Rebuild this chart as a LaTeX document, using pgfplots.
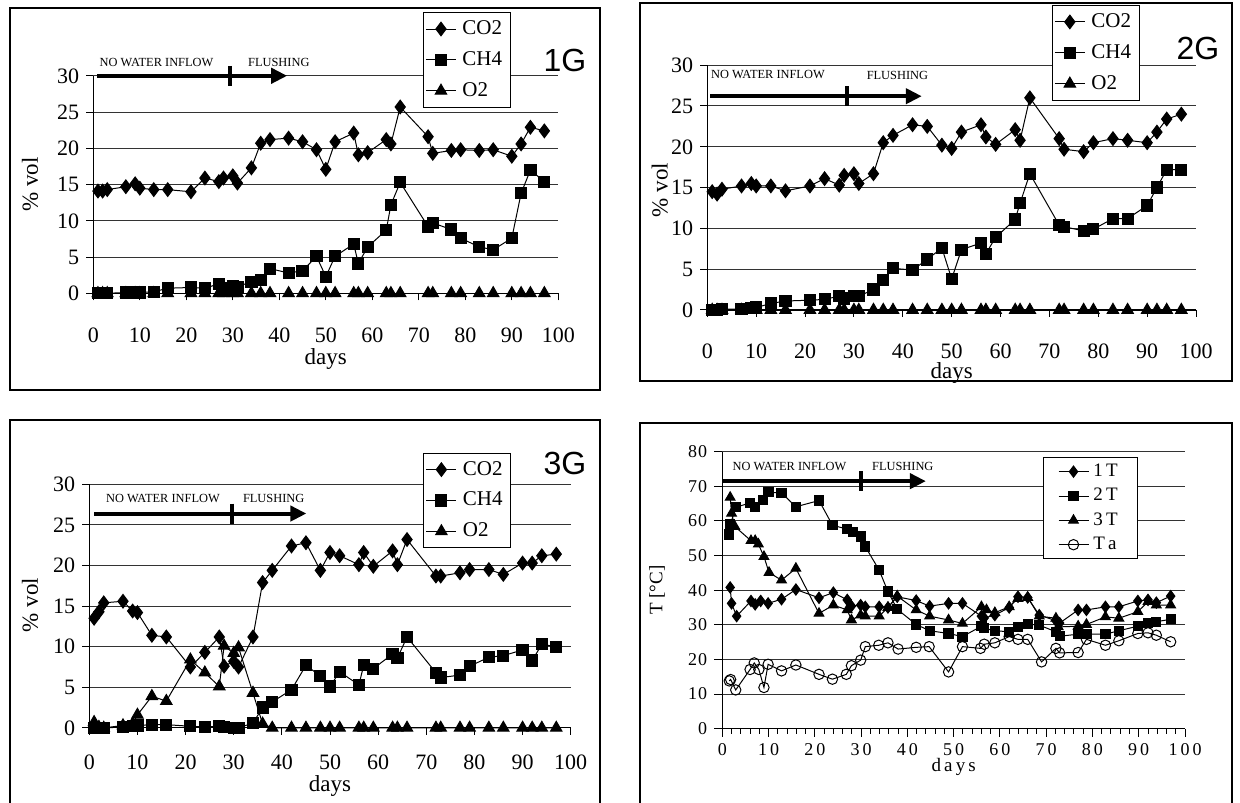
\documentclass[border=0pt]{standalone}
\usepackage{fontspec}
\setmainfont{Liberation Serif}
\newfontfamily\arialf{Liberation Sans}
\usepackage{pgfplots}
\pgfplotsset{compat=1.18}
\usetikzlibrary{arrows.meta}

\tikzset{
  arr/.style={line width=2pt, -{Triangle[length=8pt,width=7.5pt]}},
  phasebar/.style={line width=2pt},
  ann/.style={font=\fontsize{6.2}{7}\selectfont, inner sep=0pt},
}
\pgfplotsset{
  common/.style={
    scale only axis, anchor=south west, clip=false,
    xmin=0, xmax=100, xtick={0,10,...,100},
    axis x line*=bottom, axis y line*=left,
    ymajorgrids, major grid style={black!80, line width=0.5pt},
    tick align=outside, major tick length=3.5pt,
    tick style={black, line width=0.5pt},
    axis line style={black, line width=0.6pt},
    /pgf/number format/assume math mode=true,
    legend cell align=left,
    legend style={draw=black, line width=0.5pt, anchor=north west, inner sep=1pt, row sep=1pt, nodes={inner sep=0.3em}},
    legend image code/.code={\draw[mark repeat=2,mark phase=2,##1] plot coordinates {(0pt,0pt) (7.5pt,0pt) (15pt,0pt)};},
  },
  gas/.style={common, ymin=0, ymax=30, ytick={0,5,...,30},
    tick label style={font=\fontsize{11}{11}\selectfont},
    label style={font=\fontsize{11.5}{12}\selectfont},
    legend style={font=\fontsize{10.5}{12}\selectfont},
    ylabel={\% vol}, xlabel={days}},
  co/.style={black, line width=0.5pt, mark=diamond*, mark size=3.4pt},
  ch/.style={black, line width=0.5pt, mark=square*, mark size=2.8pt},
  ox/.style={black, line width=0.5pt, mark=triangle*, mark size=3.3pt},
}

\begin{document}
\begin{tikzpicture}
\useasboundingbox (0pt,0pt) rectangle (620pt,401pt);
\fill[white] (0pt,0pt) rectangle (620pt,401pt);
\draw[line width=0.6pt] (5pt,206pt) rectangle (300pt,397pt);
\draw[line width=0.6pt] (320pt,210.5pt) rectangle (616pt,399.5pt);
\draw[line width=0.6pt] (5pt,-2pt) rectangle (300pt,191pt);
\draw[line width=0.6pt] (320pt,-2pt) rectangle (616pt,189.5pt);

% ---------------- Panel 1G
\begin{axis}[gas, at={(46.65pt,254.35pt)}, width=232.5pt, height=108.75pt,
  xticklabel style={yshift=-10.4pt},
  xlabel style={at={(axis description cs:0.5,-0.302)}, anchor=center},
  ylabel style={at={(axis description cs:-0.136,0.5)}, anchor=center},
  legend style={at={(0.709,1.293)}}]
\addplot[co] coordinates {(1,14.1) (2,14.1) (3,14.3) (7,14.7) (9,15.1) (10,14.5) (13,14.3) (16,14.3) (21,14.0) (24,15.9) (27,15.4) (28,15.9) (30,16.2) (31,15.2) (34,17.3) (36,20.7) (38,21.2) (42,21.4) (45,20.9) (48,19.8) (50,17.1) (52,20.9) (56,22.1) (57,19.1) (59,19.4) (63,21.2) (64,20.6) (66,25.7) (72,21.6) (73,19.3) (77,19.7) (79,19.8) (83,19.7) (86,19.8) (90,18.9) (92,20.6) (94,22.9) (97,22.4)};
\addplot[ch] coordinates {(1,0) (2,0) (3,0) (7,0.1) (9,0.1) (10,0.1) (13,0.2) (16,0.7) (21,0.8) (24,0.7) (27,1.3) (28,0.7) (30,1.0) (31,0.9) (34,1.6) (36,1.8) (38,3.4) (42,2.8) (45,3.1) (48,5.1) (50,2.3) (52,5.1) (56,6.8) (57,4.1) (59,6.4) (63,8.7) (64,12.2) (66,15.3) (72,9.2) (73,9.7) (77,8.8) (79,7.6) (83,6.4) (86,6.0) (90,7.6) (92,13.8) (94,17.0) (97,15.4)};
\addplot[ox] coordinates {(1,0) (2,0) (3,0) (7,0) (9,0) (10,0) (13,0) (16,0) (21,0) (24,0) (27,0) (28,0) (30,0) (31,0) (34,0) (36,0) (38,0) (42,0) (45,0) (48,0) (50,0) (52,0) (56,0) (57,0) (59,0) (63,0) (64,0) (66,0) (72,0) (73,0) (77,0) (79,0) (83,0) (86,0) (90,0) (92,0) (94,0) (97,0)};
\legend{CO2,CH4,O2}
\draw[arr] (axis cs:0.8,30) -- (axis cs:41.7,30);
\draw[phasebar] ([yshift=5pt]axis cs:29.4,30) -- ([yshift=-5pt]axis cs:29.4,30);
\node[ann] at (axis cs:13.6,31.9) {NO WATER INFLOW};
\node[ann] at (axis cs:39.9,31.9) {FLUSHING};
\end{axis}
\node[font=\arialf\fontsize{16}{16}\selectfont, inner sep=0pt] at (282.5pt,371pt) {1G};

% ---------------- Panel 2G
\begin{axis}[gas, at={(353.65pt,246pt)}, width=244.35pt, height=122.4pt,
  xticklabel style={yshift=-10pt},
  xlabel style={at={(axis description cs:0.5,-0.257)}, anchor=center},
  ylabel style={at={(axis description cs:-0.097,0.49)}, anchor=center},
  legend style={at={(0.705,1.246)}}]
\addplot[co] coordinates {(1,14.5) (2,14.2) (3,14.8) (7,15.2) (9,15.5) (10,15.2) (13,15.2) (16,14.6) (21,15.2) (24,16.1) (27,15.3) (28,16.5) (30,16.7) (31,15.5) (34,16.7) (36,20.5) (38,21.4) (42,22.7) (45,22.5) (48,20.2) (50,19.8) (52,21.8) (56,22.7) (57,21.2) (59,20.3) (63,22.1) (64,20.8) (66,26.0) (72,21.0) (73,19.7) (77,19.4) (79,20.5) (83,21.0) (86,20.8) (90,20.5) (92,21.8) (94,23.4) (97,24.0)};
\addplot[ch] coordinates {(1,0) (2,0) (3,0.1) (7,0.1) (9,0.2) (10,0.3) (13,0.8) (16,1.1) (21,1.2) (24,1.3) (27,1.7) (28,1.4) (30,1.7) (31,1.7) (34,2.5) (36,3.7) (38,5.1) (42,4.9) (45,6.2) (48,7.6) (50,3.8) (52,7.4) (56,8.2) (57,6.9) (59,8.9) (63,11.1) (64,13.1) (66,16.7) (72,10.4) (73,10.2) (77,9.7) (79,9.9) (83,11.2) (86,11.2) (90,12.8) (92,15.0) (94,17.2) (97,17.2)};
\addplot[ox] coordinates {(1,0) (2,0) (3,0) (7,0) (9,0) (10,0) (13,0) (16,0) (21,0) (24,0) (27,0) (28,0) (30,0) (31,0) (34,0) (36,0) (38,0) (42,0) (45,0) (48,0) (50,0) (52,0) (56,0) (57,0) (59,0) (63,0) (64,0) (66,0) (72,0) (73,0) (77,0) (79,0) (83,0) (86,0) (90,0) (92,0) (94,0) (97,0)};
\legend{CO2,CH4,O2}
\draw[arr] (axis cs:0.6,26.2) -- (axis cs:43.9,26.2);
\draw[phasebar] ([yshift=5pt]axis cs:28.6,26.2) -- ([yshift=-5pt]axis cs:28.6,26.2);
\node[ann] at (axis cs:12.4,28.8) {NO WATER INFLOW};
\node[ann] at (axis cs:38.9,28.8) {FLUSHING};
\end{axis}
\node[font=\arialf\fontsize{16}{16}\selectfont, inner sep=0pt] at (599pt,377pt) {2G};

% ---------------- Panel 3G
\begin{axis}[gas, at={(44.65pt,37.05pt)}, width=240.7pt, height=121.8pt,
  xticklabel style={yshift=-6.5pt},
  xlabel style={at={(axis description cs:0.5,-0.238)}, anchor=center},
  ylabel style={at={(axis description cs:-0.123,0.505)}, anchor=center},
  legend style={at={(0.694,1.130)}}]
\addplot[co] coordinates {(1,13.5) (2,14.3) (3,15.4) (7,15.6) (9,14.4) (10,14.2) (13,11.4) (16,11.2) (21,7.5) (24,9.3) (27,11.2) (28,7.6) (30,8.2) (31,7.5) (34,11.2) (36,17.9) (38,19.4) (42,22.4) (45,22.8) (48,19.4) (50,21.6) (52,21.2) (56,20.1) (57,21.6) (59,19.9) (63,21.8) (64,20.1) (66,23.2) (72,18.7) (73,18.7) (77,19.1) (79,19.5) (83,19.5) (86,18.9) (90,20.3) (92,20.3) (94,21.2) (97,21.4)};
\addplot[ch] coordinates {(1,0) (2,0) (3,0) (7,0.1) (9,0.2) (10,0.3) (13,0.4) (16,0.4) (21,0.2) (24,0.1) (27,0.2) (28,0.1) (30,0) (31,0) (34,0.6) (36,2.5) (38,3.2) (42,4.7) (45,7.7) (48,6.4) (50,5.1) (52,6.9) (56,5.3) (57,7.7) (59,7.3) (63,9.1) (64,8.6) (66,11.2) (72,6.8) (73,6.2) (77,6.5) (79,7.6) (83,8.7) (86,8.9) (90,9.6) (92,8.3) (94,10.3) (97,10.0)};
\addplot[ox] coordinates {(1,0.7) (2,0.1) (3,0) (7,0.3) (9,0.5) (10,1.6) (13,3.9) (16,3.3) (21,8.4) (24,6.8) (27,5.1) (28,10.1) (30,9.2) (31,9.9) (34,4.3) (36,0.5) (38,0) (42,0) (45,0) (48,0) (50,0) (52,0) (56,0) (57,0) (59,0) (63,0) (64,0) (66,0) (72,0) (73,0) (77,0) (79,0) (83,0) (86,0) (90,0) (92,0) (94,0) (97,0)};
\legend{CO2,CH4,O2}
\draw[arr] (axis cs:1.0,26.4) -- (axis cs:45.1,26.4);
\draw[phasebar] ([yshift=5pt]axis cs:29.7,26.4) -- ([yshift=-5pt]axis cs:29.7,26.4);
\node[ann] at (axis cs:15.3,28.2) {NO WATER INFLOW};
\node[ann] at (axis cs:38.3,28.2) {FLUSHING};
\end{axis}
\node[font=\arialf\fontsize{16}{16}\selectfont, inner sep=0pt] at (282.5pt,169.5pt) {3G};

% ---------------- Panel T
\begin{axis}[common, at={(361.15pt,36.65pt)}, width=231.35pt, height=138.5pt,
  ymin=0, ymax=80, ytick={0,10,...,80},
  minor x tick num=4, minor tick length=2.5pt, major tick length=4pt,
  xticklabels={0,1\,0,2\,0,3\,0,4\,0,5\,0,6\,0,7\,0,8\,0,9\,0,1\,0\,0},
  yticklabels={0,1\kern0.6pt0,2\kern0.6pt0,3\kern0.6pt0,4\kern0.6pt0,5\kern0.6pt0,6\kern0.6pt0,7\kern0.6pt0,8\kern0.6pt0},
  tick label style={font=\fontsize{9}{9}\selectfont},
  label style={font=\fontsize{9.5}{10}\selectfont},
  legend style={font=\fontsize{9.5}{10}\selectfont, row sep=0pt, inner xsep=7.5pt, inner ysep=1pt, nodes={inner sep=2.2pt}, at={(0.692,0.981)}},
  xlabel={d\,a\,y\,s}, ylabel={T [\textdegree C]},
  xlabel style={at={(axis description cs:0.5,-0.138)}, anchor=center},
  ylabel style={at={(axis description cs:-0.141,0.5)}, anchor=center}]
\addplot[black, line width=0.5pt, mark=diamond*, mark size=2.8pt] coordinates {(1.7,40.8) (2,36.2) (3.1,32.5) (6.2,36.9) (7.1,35.9) (8.3,36.9) (9.9,36.2) (12.8,37.4) (15.9,40.2) (20.9,37.8) (24,39.3) (27,37.2) (27.9,35.4) (29.9,35.7) (30.9,35.2) (33.9,35.2) (35.8,35.0) (37.8,38.1) (41.9,37.0) (44.8,35.4) (48.9,36.2) (51.9,36.2) (56,32.5) (56.6,32.0) (58.9,32.8) (62,35.0) (63.9,38.1) (66,37.9) (68.5,32.8) (72.1,31.2) (72.9,30.5) (76.9,34.3) (78.7,34.3) (82.8,35.2) (85.7,35.2) (89.8,36.9) (92,37.2) (93.8,36.4) (96.9,38.3)};
\addplot[black, line width=0.5pt, mark=square*, mark size=2.3pt] coordinates {(1.4,56.1) (1.7,59.0) (3,64.0) (6,65.2) (7,64.0) (8.8,66.0) (10,68.3) (12.8,68.1) (15.9,64.1) (20.9,65.9) (23.8,58.8) (27,57.6) (28.3,56.9) (29.9,55.5) (30.9,52.6) (33.9,45.8) (35.8,39.6) (37.8,34.5) (41.9,30.1) (44.8,28.3) (48.9,27.5) (51.9,26.6) (56,29.6) (56.6,29.0) (58.9,28.3) (62,28.0) (63.9,29.3) (66,30.2) (68.5,29.9) (72.1,28.0) (72.9,26.7) (76.9,27.3) (78.7,27.3) (82.8,27.3) (85.7,28.3) (89.8,29.6) (92,30.6) (93.8,30.9) (96.9,31.6)};
\addplot[black, line width=0.5pt, mark=triangle*, mark size=2.8pt] coordinates {(1.7,66.8) (2,62.2) (2.7,58.4) (6.2,54.3) (7.1,54.3) (7.8,53.3) (9,49.7) (10.1,45.1) (12.8,42.9) (15.9,46.3) (20.9,33.3) (24,35.7) (27,34.3) (27.9,31.4) (29.9,32.8) (30.9,32.5) (33.9,32.5) (35.8,35.0) (37.8,38.3) (41.9,34.3) (44.8,32.5) (48.9,31.4) (51.9,30.4) (56,35.2) (57.1,34.3) (58.9,33.5) (62,35.2) (63.9,37.6) (66,37.9) (68.5,32.5) (72.1,31.9) (72.6,29.4) (76.9,29.6) (78.7,30.1) (82.8,32.3) (85.7,31.9) (89.8,33.8) (92,36.7) (93.8,35.7) (96.9,35.7)};
\addplot[black, line width=0.5pt, mark=o, mark size=2.6pt] coordinates {(1.5,13.8) (1.8,14.2) (2.9,11.2) (6,17.1) (6.9,19.0) (7.9,17.1) (9,11.9) (9.9,18.6) (12.8,16.7) (15.9,18.4) (20.9,15.7) (23.8,14.3) (26.8,15.7) (27.9,18.2) (29.9,19.8) (30.9,23.7) (33.8,24.1) (35.8,24.8) (38,23.0) (41.9,23.5) (44.7,23.7) (48.9,16.4) (51.9,23.7) (55.8,23.2) (56.6,24.4) (58.9,24.8) (62,26.6) (63.9,25.8) (66,25.8) (69,19.3) (72.1,23.2) (72.9,21.9) (76.9,22.0) (78.7,25.8) (82.8,24.1) (85.7,25.4) (89.8,27.5) (92,27.7) (93.8,27.0) (96.9,25.1)};
\legend{1\,T,2\,T,3\,T,T\,a}
\draw[arr] (axis cs:0,71.5) -- (axis cs:44,71.5);
\draw[phasebar] ([yshift=5pt]axis cs:30,71.5) -- ([yshift=-5pt]axis cs:30,71.5);
\node[ann] at (axis cs:14.5,75.7) {NO WATER INFLOW};
\node[ann] at (axis cs:39,75.7) {FLUSHING};
\end{axis}
\end{tikzpicture}
\end{document}
